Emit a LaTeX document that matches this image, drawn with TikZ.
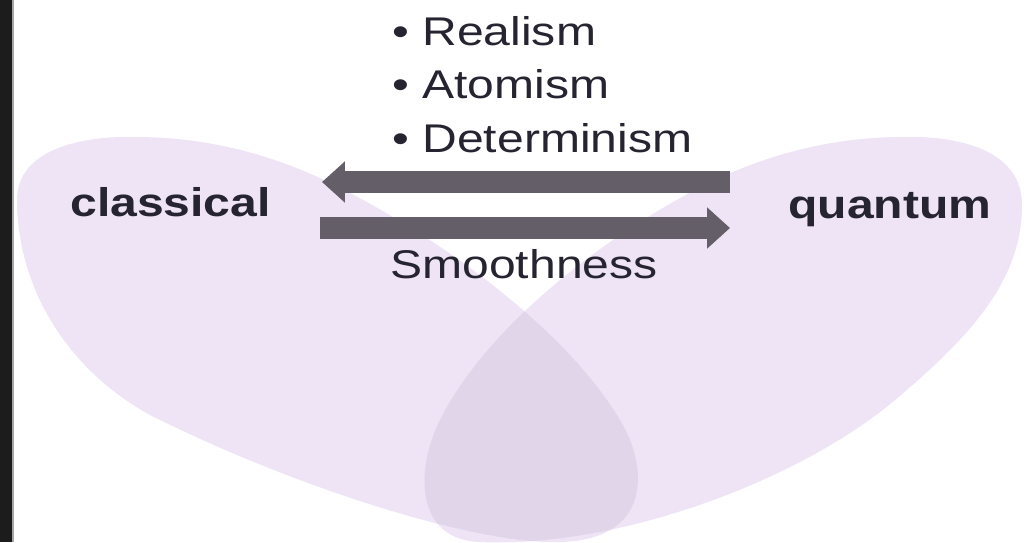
\documentclass[tikz,border=0pt]{standalone}
\usepackage{fontspec}
\setmainfont{Liberation Sans}[FakeStretch=1.2]
\usetikzlibrary{arrows.meta}
\definecolor{petallilac}{RGB}{238,228,246}
\definecolor{overlaplilac}{RGB}{224,213,233}
\definecolor{arrowgray}{RGB}{100,94,104}
\definecolor{inkdark}{RGB}{38,36,48}
\definecolor{stripblack}{RGB}{28,28,28}

% outlines of the two petals
\newcommand{\classicalpetal}{(17,200) .. controls (17,150) and (80,135) .. (140,137)
    .. controls (220,138) and (280,160) .. (320,178)
    .. controls (420,225) and (560,320) .. (620,420)
    .. controls (650,470) and (650,540) .. (560,542)
    .. controls (480,545) and (300,490) .. (150,415)
    .. controls (60,365) and (17,280) .. cycle}
\newcommand{\quantumpetal}{(1022,205) .. controls (1022,150) and (959,135) .. (899,137)
    .. controls (819,138) and (759,160) .. (719,178)
    .. controls (620,225) and (490,320) .. (440,420)
    .. controls (415,470) and (415,540) .. (480,542)
    .. controls (620,548) and (800,480) .. (895,400)
    .. controls (971,336) and (1022,280) .. cycle}

\begin{document}
\begin{tikzpicture}[x=0.02cm,y=-0.02cm,
    word/.style={inkdark,anchor=base west,inner sep=0pt,font=\fontsize{22.8}{27}\selectfont},
    sidename/.style={word,font=\fontsize{22.8}{27}\selectfont\bfseries},
    bigarrow/.style={arrowgray,line width=0.44cm,-{Triangle[width=0.8cm,length=0.46cm]}}]
    \useasboundingbox (0,0) rectangle (1025,542);
    \fill[white] (0,0) rectangle (1025,542);

    % dark strip on the left edge
    \fill[stripblack] (0,0) rectangle (13,542);
    \fill[gray!70] (12,0) rectangle (14,542);

    % petals and their overlap
    \fill[petallilac] \classicalpetal;
    \fill[petallilac] \quantumpetal;
    \begin{scope}
        \clip \classicalpetal;
        \fill[overlaplilac] \quantumpetal;
    \end{scope}

    % bullet list
    \node[word] (realism) at (392,45) {\textbullet\ Realism};
    \node[word] (atomism) at (392,98) {\textbullet\ Atomism};
    \node[word] (determinism) at (392,152) {\textbullet\ Determinism};
    \node[word] (smoothness) at (390,278) {Smoothness};

    % the two sides
    \node[sidename] (classical) at (70,216) {classical};
    \node[sidename] (quantum) at (788,218) {quantum};

    % arrows between them
    \coordinate (backstart) at (730,182);
    \coordinate (backend) at (322,182);
    \coordinate (forthstart) at (320,228);
    \coordinate (forthend) at (730,228);
    \draw[bigarrow] (backstart) -- (backend);
    \draw[bigarrow] (forthstart) -- (forthend);
\end{tikzpicture}
\end{document}
